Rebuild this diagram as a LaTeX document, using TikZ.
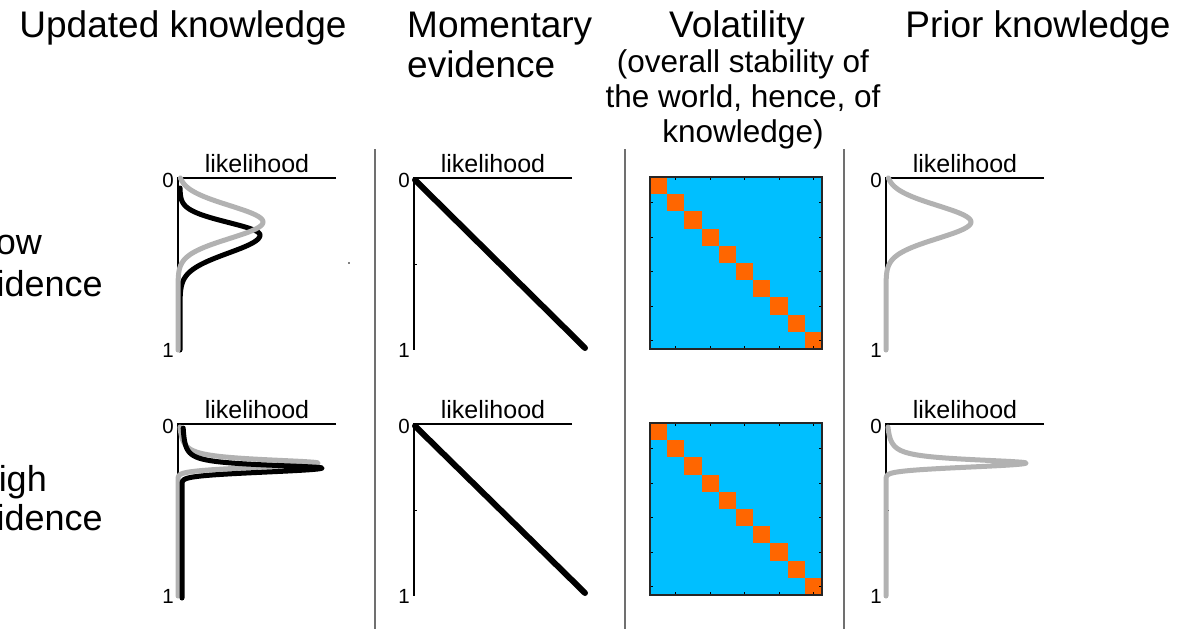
\documentclass[tikz,border=0pt]{standalone}
\usepackage{fontspec}
\setmainfont{Liberation Sans}
\usepackage{tikz}
\usetikzlibrary{positioning}
\definecolor{volblue}{RGB}{0,191,255}
\definecolor{volorange}{RGB}{255,102,0}
\definecolor{curvegray}{RGB}{178,178,178}
\definecolor{sepgray}{RGB}{112,112,112}

\begin{document}
\begin{tikzpicture}[x=1pt, y=-1pt, inner sep=0pt,
  title/.style={font=\fontsize{37}{40}\selectfont, anchor=base},
  subtitle/.style={font=\fontsize{31.5}{35}\selectfont, anchor=base},
  rowlab/.style={font=\fontsize{36}{40}\selectfont, anchor=base east},
  liklab/.style={font=\fontsize{25}{28}\selectfont, anchor=base},
  ticklab/.style={font=\fontsize{20.5}{22}\selectfont, anchor=east},
  axis/.style={line width=1.8pt},
  sepline/.style={draw=sepgray, line width=1.5pt},
  graycurve/.style={draw=curvegray, line width=5pt, line cap=round, line join=round},
  blackcurve/.style={draw=black, line width=5pt, line cap=round, line join=round},
  evline/.style={line width=6pt, line cap=round}]
\clip (0,0) rectangle (1179,629);

% column titles
\node[title] (t-upd) at (183,37.5) {Updated knowledge};
\node[title, anchor=base west] (t-mom) at (407,37.5) {Momentary};
\node[title, anchor=base west] (t-mom2) at (407,77.5) {evidence};
\node[title] (t-vol) at (737,37) {Volatility};
\node[subtitle] (t-vol2) at (743,72.5) {(overall stability of};
\node[subtitle] (t-vol3) at (743,107.5) {the world, hence, of};
\node[subtitle] (t-vol4) at (743,142) {knowledge)};
\node[title] (t-pri) at (1038,37.5) {Prior knowledge};

% row labels (cut by the left edge)
\node[rowlab] (r-low) at (42,254) {Low};
\node[rowlab] (r-low2) at (103,296) {evidence};
\node[rowlab] (r-high) at (47,491) {High};
\node[rowlab] (r-high2) at (103,530) {evidence};

% separators
\foreach \sx in {375,625,844}
  \draw[sepline] (\sx,149) -- (\sx,629);

% likelihood axes
\foreach \px/\py/\nm in {178/178/ua, 414/178/ma, 886/178/pa, 178/424/ub, 414/424/mb, 886/424/pb} {
  \draw[axis] (\px+158,\py) -- (\px,\py) -- (\px,\py+172);
  \draw[line width=1pt] (\px,\py+86) -- (\px+2.5,\py+86);
  \node[liklab] (\nm-lik) at (\px+79,\py-6) {likelihood};
  \node[ticklab] (\nm-zero) at (\px-4,\py+2) {0};
  \node[ticklab] (\nm-one) at (\px-4,\py+172) {1};
}

% low evidence: updated (black) and prior (gray)
\draw[blackcurve] plot[domain=188:235, samples=60, variable=\t] ({180+80*exp(-((\t-235)/12.5)^2/2)}, \t)
  -- plot[domain=235:300, samples=80, variable=\t] ({180+80*exp(-((\t-235)/18)^2/2)}, \t) -- (180,350);
\foreach \gx in {0,708}
  \draw[graycurve, xshift=\gx pt] plot[domain=178:290, samples=120, variable=\t] ({178+85*exp(-((\t-222)/16.5)^2/2)}, \t) -- (178,350);
\fill (349,263) circle[radius=0.8pt];

% high evidence
\foreach \gx in {0,708}
  \draw[graycurve, xshift=\gx pt] plot[domain=427:463, samples=100, variable=\t] ({178+140/(1+((\t-463)/4.3)^2)}, \t)
    -- plot[domain=463:482, samples=60, variable=\t] ({178+140*exp(-((\t-463)/4)^2/2)}, \t) -- (178,596);
\draw[blackcurve] plot[domain=428:468, samples=100, variable=\t] ({182+140/(1+((\t-468)/3.7)^2)}, \t)
  -- plot[domain=468:487, samples=60, variable=\t] ({182+140*exp(-((\t-468)/4)^2/2)}, \t) -- (182,598);

% momentary evidence
\draw[evline] (415,180) -- (585,348);
\draw[evline] (415,426) -- (585,593);

% volatility matrices
\foreach \my in {177,423} {
  \fill[volblue] (650,\my) rectangle (822,\my+172);
  \foreach \k in {0,...,9}
    \fill[volorange] (650+17.2*\k,\my+17.2*\k) rectangle ++(17.2,17.2);
  \foreach \k in {1,3,5,7,9} {
    \draw[line width=0.8pt] (658.6+17.2*\k,\my) -- ++(0,3);
    \draw[line width=0.8pt] (658.6+17.2*\k,\my+172) -- ++(0,-3);
    \draw[line width=0.8pt] (650,\my+8.6+17.2*\k) -- ++(3,0);
    \draw[line width=0.8pt] (822,\my+8.6+17.2*\k) -- ++(-3,0);
  }
  \draw[line width=2pt, draw=black!85] (650,\my) rectangle (822,\my+172);
}
\end{tikzpicture}
\end{document}
